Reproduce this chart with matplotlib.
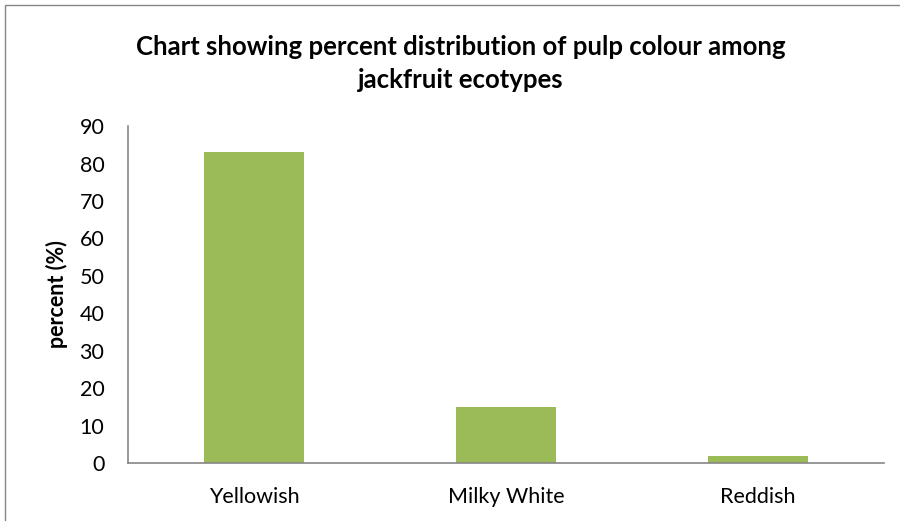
import matplotlib
matplotlib.use("Agg")
import matplotlib.pyplot as plt
from matplotlib.patches import Rectangle

# pulp colour distribution (%)
categories = ["Yellowish", "Milky White", "Reddish"]
percent = [83, 15, 2]

plt.rcParams["font.family"] = ["Lato", "DejaVu Sans"]

fig = plt.figure(figsize=(9, 5.21), dpi=100)
ax = fig.add_axes([0.1422, 0.1113, 0.8400, 0.6467])

x = range(len(categories))
ax.bar(x, percent, width=0.40, color="#9BBB59")

ax.set_xlim(-0.5, len(categories) - 0.5)
ax.set_ylim(0, 90)
ax.set_yticks(range(0, 91, 10))
ax.set_xticks(list(x))
ax.set_xticklabels(categories)
ax.tick_params(axis="both", length=0, labelsize=15.5, colors="black")
ax.tick_params(axis="x", pad=17)
ax.tick_params(axis="y", pad=17)

for side in ("top", "right"):
    ax.spines[side].set_visible(False)
for side in ("left", "bottom"):
    ax.spines[side].set_color("#868686")
    ax.spines[side].set_linewidth(1.2)

ax.set_ylabel("percent (%)", fontsize=15.5, fontweight="bold", labelpad=8)

fig.text(0.512, 0.91, "Chart showing percent distribution of pulp colour among",
         ha="center", va="center", fontsize=18.5, fontweight="bold")
fig.text(0.512, 0.846, "jackfruit ecotypes",
         ha="center", va="center", fontsize=18.5, fontweight="bold")

# chart area border
fig.patches.append(Rectangle((0.006, -0.01), 1.1, 1.0, transform=fig.transFigure,
                             fill=False, edgecolor="#868686", linewidth=1.0))

fig.savefig("out.png", dpi=100)
